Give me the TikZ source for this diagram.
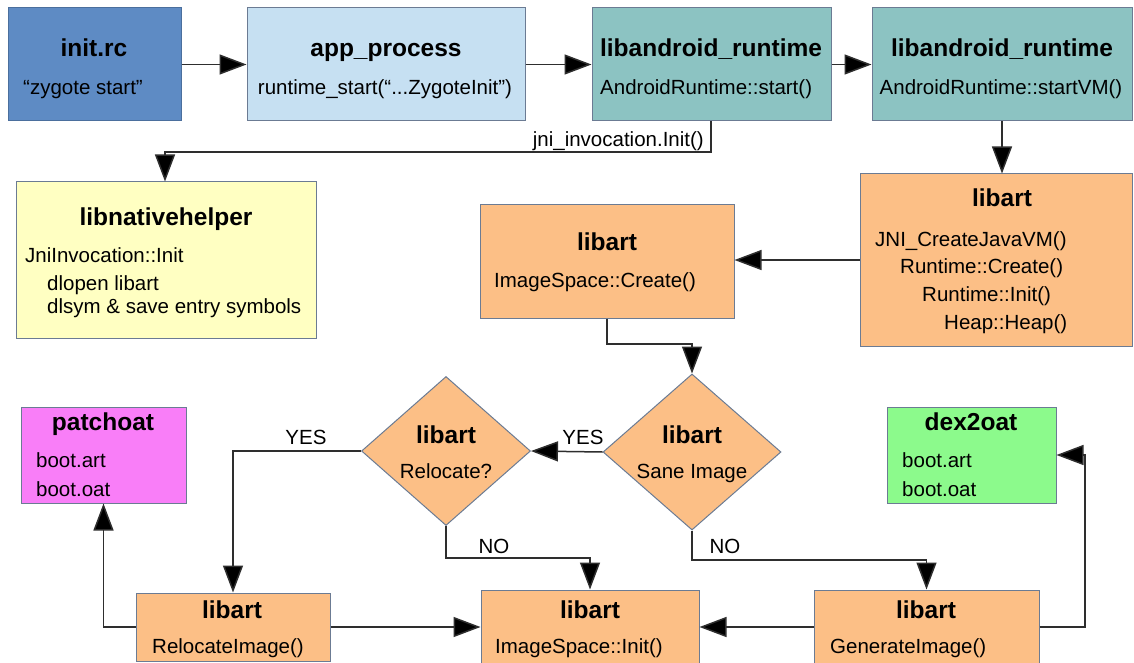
\documentclass[tikz,border=0pt]{standalone}
\usepackage{fontspec}
\setmainfont{Liberation Sans}
\usetikzlibrary{arrows.meta,shapes.geometric}
\definecolor{cInit}{HTML}{5E8BC4}
\definecolor{cApp}{HTML}{C6E0F2}
\definecolor{cTeal}{HTML}{8CC3C2}
\definecolor{cOrange}{HTML}{FCBF86}
\definecolor{cYellow}{HTML}{FFFFC2}
\definecolor{cMagenta}{HTML}{F97EF8}
\definecolor{cGreen}{HTML}{8CFA8C}
\definecolor{cBorder}{HTML}{6B7B93}
\definecolor{cLine}{HTML}{2E2E2E}
\begin{document}
\begin{tikzpicture}[x=1pt,y=-1pt,
  box/.style={draw=cBorder,line width=1pt,inner sep=0pt,rectangle},
  dia/.style={draw=cBorder,line width=1pt,inner sep=0pt,diamond,fill=cOrange},
  ttl/.style={font=\fontsize{24.5}{28}\selectfont\bfseries,inner sep=0pt,anchor=base},
  txt/.style={font=\fontsize{20.5}{24}\selectfont,inner sep=0pt,anchor=base west},
  ctxt/.style={font=\fontsize{20.5}{24}\selectfont,inner sep=0pt,anchor=base},
  conn/.style={draw=cLine,line width=1.5pt,-{Triangle[length=27pt,width=20pt,fill=black]}}]
\useasboundingbox[fill=white] (0,0) rectangle (1134,663);

% row 1
\node[box,fill=cInit,draw=cInit!80!black,minimum width=173,minimum height=113] (initrc) at (94.5,64.5) {};
\node[box,fill=cApp,minimum width=278,minimum height=113] (appproc) at (386,64.5) {};
\node[box,fill=cTeal,minimum width=239,minimum height=113] (lar1) at (711.5,64.5) {};
\node[box,fill=cTeal,minimum width=260,minimum height=113] (lar2) at (1002,64.5) {};

\node[ttl] (t-initrc) at (94,57) {init.rc};
\node[txt] (b-initrc) at (23,95) {“zygote start”};
\node[ttl] (t-app) at (386,57) {app\_process};
\node[ctxt] (b-app) at (385,95) {runtime\_start(“...ZygoteInit”)};
\node[ttl] (t-lar1) at (711,57) {libandroid\_runtime};
\node[txt] (b-lar1) at (600,95) {AndroidRuntime::start()};
\node[ttl] (t-lar2) at (1002,57) {libandroid\_runtime};
\node[ctxt] (b-lar2) at (1001,95) {AndroidRuntime::startVM()};

% row 2
\node[box,fill=cYellow,minimum width=300,minimum height=156] (lnh) at (166,260) {};
\node[ttl] (t-lnh) at (166,225) {libnativehelper};
\node[txt] (b-lnh1) at (25,262) {JniInvocation::Init};
\node[txt] (b-lnh2) at (47,290) {dlopen libart};
\node[txt] (b-lnh3) at (47,313) {dlsym \& save entry symbols};

\node[box,fill=cOrange,minimum width=254,minimum height=114] (iscreate) at (607,261) {};
\node[ttl] (t-isc) at (607,250) {libart};
\node[txt] (b-isc) at (494,287) {ImageSpace::Create()};

\node[box,fill=cOrange,minimum width=272,minimum height=172] (libartR) at (996,260) {};
\node[ttl] (t-lr) at (1002,207) {libart};
\node[txt] (b-lr1) at (875,246) {JNI\_CreateJavaVM()};
\node[txt] (b-lr2) at (900,273) {Runtime::Create()};
\node[txt] (b-lr3) at (922,301) {Runtime::Init()};
\node[txt] (b-lr4) at (944,329) {Heap::Heap()};

% row 3
\node[dia,minimum width=178,minimum height=156] (sane) at (692,452) {};
\node[ttl] (t-sane) at (692,443) {libart};
\node[ctxt] (b-sane) at (692,478) {Sane Image};

\node[dia,minimum width=169,minimum height=149] (reloc) at (446,451) {};
\node[ttl] (t-reloc) at (446,443) {libart};
\node[ctxt] (b-reloc) at (446,478) {Relocate?};

\node[box,fill=cMagenta,minimum width=165,minimum height=96] (patchoat) at (103.5,455) {};
\node[ttl] (t-pa) at (103,430) {patchoat};
\node[txt] (b-pa1) at (36,467) {boot.art};
\node[txt] (b-pa2) at (36,496) {boot.oat};

\node[box,fill=cGreen,minimum width=169,minimum height=96] (dex2oat) at (971.5,455) {};
\node[ttl] (t-dx) at (971,430) {dex2oat};
\node[txt] (b-dx1) at (902,467) {boot.art};
\node[txt] (b-dx2) at (902,496) {boot.oat};

% row 4
\node[box,fill=cOrange,minimum width=194,minimum height=68] (relimg) at (233,627) {};
\node[ttl] (t-ri) at (232,618) {libart};
\node[txt] (b-ri) at (152,653) {RelocateImage()};

\node[box,fill=cOrange,minimum width=218,minimum height=74] (isinit) at (590,627) {};
\node[ttl] (t-ii) at (590,618) {libart};
\node[txt] (b-ii) at (495,653) {ImageSpace::Init()};

\node[box,fill=cOrange,minimum width=225,minimum height=74] (genimg) at (926.5,627) {};
\node[ttl] (t-gi) at (926,618) {libart};
\node[txt] (b-gi) at (830,653) {GenerateImage()};

% helper coordinates
\coordinate (j1) at (711,152);
\coordinate (j2) at (165,152);
\coordinate (c1) at (692,344);
\coordinate (c2) at (590,558);
\coordinate (c3) at (926.5,560);
\coordinate (c4) at (1085,455);

% connectors
\draw[conn] (initrc.east) -- (appproc.west);
\draw[conn] (appproc.east) -- (lar1.west);
\draw[conn] (lar1.east) -- (lar2.west);
\draw[conn] (lar1.south -| j1) -- (j1) -- (j2) -- (lnh.north -| j2);
\node[ctxt,anchor=base east] (l-jni) at (704,147) {jni\_invocation.Init()};
\draw[conn] (lar2.south) -- (lar2.south |- libartR.north);
\draw[conn] (libartR.west) -- (libartR.west -| iscreate.east);
\draw[conn] (iscreate.south) |- (c1) -- (sane.north);
\draw[conn] (sane.west) -- (reloc.east);
\node[ctxt] (l-yes1) at (583,444) {YES};
\draw[conn] (reloc.west) -| (relimg.north);
\node[ctxt] (l-yes2) at (306,444) {YES};
\draw[conn] (reloc.south) |- (c2) -- (isinit.north);
\node[ctxt] (l-no1) at (494,553) {NO};
\draw[conn] (sane.south) |- (c3) -- (genimg.north);
\node[ctxt] (l-no2) at (725,553) {NO};
\draw[conn] (relimg.west) -| (patchoat.south);
\draw[conn] (relimg.east) -- (relimg.east -| isinit.west);
\draw[conn] (genimg.west) -- (genimg.west -| isinit.east);
\draw[conn] (genimg.east) -| (c4) -- (dex2oat.east);
\end{tikzpicture}
\end{document}
